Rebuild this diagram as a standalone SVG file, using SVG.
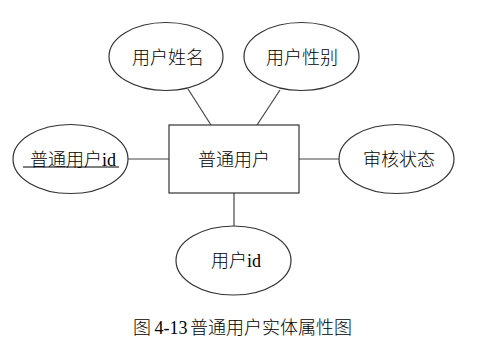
<svg xmlns="http://www.w3.org/2000/svg" width="504" height="348" viewBox="0 0 504 348">
<style>
.shape{fill:#fff;stroke:#333;stroke-width:1.2}
.conn line{stroke:#444;stroke-width:1.2}
text{font-family:"Noto Sans CJK SC",sans-serif;font-size:18px;font-weight:300;fill:#000}
.lat{font-family:"Liberation Serif",serif;font-weight:400}
</style>
<rect width="504" height="348" fill="#fff"/>
<g id="connectors" class="conn">
<line x1="188" y1="89" x2="211" y2="125"/>
<line x1="280" y1="90" x2="257" y2="125"/>
<line x1="128" y1="159" x2="169" y2="159"/>
<line x1="299" y1="159" x2="339" y2="159"/>
<line x1="234" y1="193" x2="234" y2="226"/>
</g>
<g id="entity">
<rect class="shape" x="169" y="125" width="130" height="68"/>
<text x="198" y="166">普通用户</text>
</g>
<g id="attr-name">
<ellipse class="shape" cx="166" cy="56.5" rx="57" ry="34"/>
<text x="132" y="64">用户姓名</text>
</g>
<g id="attr-gender">
<ellipse class="shape" cx="301.5" cy="56.5" rx="57.5" ry="34"/>
<text x="266" y="64">用户性别</text>
</g>
<g id="attr-pk">
<ellipse class="shape" cx="70.5" cy="159" rx="57.5" ry="34.5"/>
<text x="30" y="166">普通用户<tspan class="lat">id</tspan></text>
<line x1="23" y1="167" x2="119" y2="167" stroke="#000" stroke-width="1"/>
</g>
<g id="attr-status">
<ellipse class="shape" cx="396.5" cy="159" rx="57.5" ry="34.5"/>
<text x="363" y="166">审核状态</text>
</g>
<g id="attr-userid">
<ellipse class="shape" cx="233.5" cy="260.5" rx="57.5" ry="34.5"/>
<text x="211" y="267">用户<tspan class="lat">id</tspan></text>
</g>
<text x="133" y="334">图<tspan class="lat" dx="-1"> 4-13</tspan><tspan class="lat" dx="-2"> </tspan>普通用户实体属性图</text>
</svg>
